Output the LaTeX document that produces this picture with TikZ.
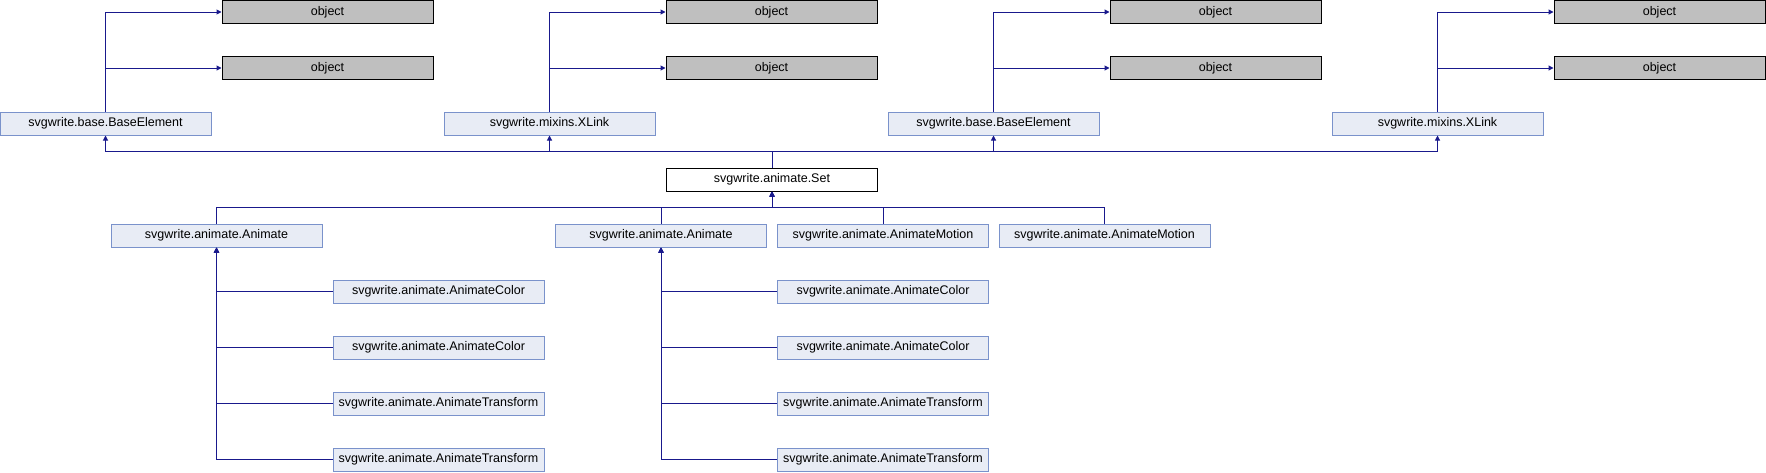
\documentclass[tikz,border=0pt]{standalone}
\usepackage{fontspec}
\setmainfont{Liberation Sans}
\usetikzlibrary{arrows.meta,positioning}
\definecolor{edgeblue}{RGB}{25,25,140}
\definecolor{clsfill}{RGB}{232,236,245}
\definecolor{clsline}{RGB}{122,146,203}

\begin{document}
\begin{tikzpicture}[x=1pt, y=-1pt,
  every node/.style={font=\fontsize{12.5}{14}\selectfont, inner sep=0pt, minimum width=211pt, minimum height=23pt, line width=1pt},
  cls/.style={rectangle, draw=clsline, fill=clsfill},
  mainbox/.style={rectangle, draw=black, fill=white},
  objbox/.style={rectangle, draw=black, fill=black!25},
  edge/.style={draw=edgeblue, line width=1pt, -{Triangle[length=5pt,width=5pt]}}]
\useasboundingbox (0,0) rectangle (1766,472);
% base classes
\node[cls] (base1) at (105.5,123.5) {svgwrite.base.BaseElement};
\node[cls] (xlink1) at (549.5,123.5) {svgwrite.mixins.XLink};
\node[cls] (base2) at (993.5,123.5) {svgwrite.base.BaseElement};
\node[cls] (xlink2) at (1437.5,123.5) {svgwrite.mixins.XLink};
\node[objbox] (obj1a) at (327.5,12) {object};
\node[objbox] (obj1b) at (327.5,68) {object};
\node[objbox] (obj2a) at (771.5,12) {object};
\node[objbox] (obj2b) at (771.5,68) {object};
\node[objbox] (obj3a) at (1215.5,12) {object};
\node[objbox] (obj3b) at (1215.5,68) {object};
\node[objbox] (obj4a) at (1659.5,12) {object};
\node[objbox] (obj4b) at (1659.5,68) {object};
% this class
\node[mainbox] (set) at (772,179.5) {svgwrite.animate.Set};
% derived classes
\node[cls] (anim1) at (216.5,235.5) {svgwrite.animate.Animate};
\node[cls] (anim2) at (661,235.5) {svgwrite.animate.Animate};
\node[cls] (motion1) at (883,235.5) {svgwrite.animate.AnimateMotion};
\node[cls] (motion2) at (1104.5,235.5) {svgwrite.animate.AnimateMotion};
\node[cls] (color1a) at (438.5,291.5) {svgwrite.animate.AnimateColor};
\node[cls] (color1b) at (438.5,347.5) {svgwrite.animate.AnimateColor};
\node[cls] (trans1a) at (438.5,403.5) {svgwrite.animate.AnimateTransform};
\node[cls] (trans1b) at (438.5,459.5) {svgwrite.animate.AnimateTransform};
\node[cls] (color2a) at (883,291.5) {svgwrite.animate.AnimateColor};
\node[cls] (color2b) at (883,347.5) {svgwrite.animate.AnimateColor};
\node[cls] (trans2a) at (883,403.5) {svgwrite.animate.AnimateTransform};
\node[cls] (trans2b) at (883,459.5) {svgwrite.animate.AnimateTransform};
% edges to object
\draw[edge] (base1.north) |- (obj1a.west);
\draw[edge] (base1.north) |- (obj1b.west);
\draw[edge] (xlink1.north) |- (obj2a.west);
\draw[edge] (xlink1.north) |- (obj2b.west);
\draw[edge] (base2.north) |- (obj3a.west);
\draw[edge] (base2.north) |- (obj3b.west);
\draw[edge] (xlink2.north) |- (obj4a.west);
\draw[edge] (xlink2.north) |- (obj4b.west);
% edges from Set
\draw[edge] (set.north) -- ++(0,-16) -| (base1.south);
\draw[edge] (set.north) -- ++(0,-16) -| (xlink1.south);
\draw[edge] (set.north) -- ++(0,-16) -| (base2.south);
\draw[edge] (set.north) -- ++(0,-16) -| (xlink2.south);
% edges to Set
\draw[edge] (anim1.north) -- ++(0,-16) -| (set.south);
\draw[edge] (anim2.north) -- ++(0,-16) -| (set.south);
\draw[edge] (motion1.north) -- ++(0,-16) -| (set.south);
\draw[edge] (motion2.north) -- ++(0,-16) -| (set.south);
% edges to Animate
\draw[edge] (color1a.west) -| (anim1.south);
\draw[edge] (color1b.west) -| (anim1.south);
\draw[edge] (trans1a.west) -| (anim1.south);
\draw[edge] (trans1b.west) -| (anim1.south);
\draw[edge] (color2a.west) -| (anim2.south);
\draw[edge] (color2b.west) -| (anim2.south);
\draw[edge] (trans2a.west) -| (anim2.south);
\draw[edge] (trans2b.west) -| (anim2.south);
\end{tikzpicture}
\end{document}
